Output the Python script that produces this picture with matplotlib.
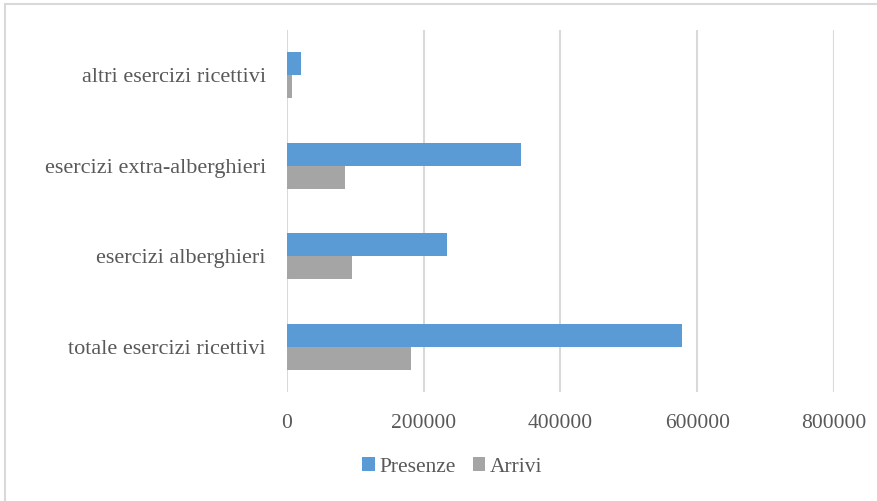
import numpy as np
import matplotlib.pyplot as plt
from matplotlib.patches import Rectangle

categories = ["totale esercizi ricettivi", "esercizi alberghieri",
              "esercizi extra-alberghieri", "altri esercizi ricettivi"]
presenze = [578000, 234500, 342000, 21500]
arrivi = [181000, 95500, 85300, 7800]
xticks = [0, 200000, 400000, 600000, 800000]

blue = "#5B9BD5"
grey = "#A5A5A5"
text_col = "#595959"
plt.rcParams["font.family"] = ["Liberation Serif", "DejaVu Serif"]

fig = plt.figure(figsize=(8.78, 5.01), dpi=100)
ax = fig.add_axes([0.3265, 0.2176, 0.6234, 0.7226])

y = np.arange(len(categories))
h = 0.255
ax.barh(y + h / 2, presenze, height=h, color=blue, label="Presenze", zorder=3)
ax.barh(y - h / 2, arrivi, height=h, color=grey, label="Arrivi", zorder=3)

ax.set_xlim(0, 800000)
ax.set_ylim(-0.5, len(categories) - 0.5)
ax.set_xticks(xticks)
ax.set_xticklabels([str(v) for v in xticks])
ax.set_yticks(y)
ax.set_yticklabels(categories)
ax.grid(axis="x", color="#D9D9D9", linewidth=1.5, zorder=0)
ax.tick_params(length=0, labelsize=15.5, labelcolor=text_col)
ax.tick_params(axis="x", pad=16)
ax.tick_params(axis="y", pad=15, labelsize=16)
for s in ax.spines.values():
    s.set_visible(False)

fig.legend(loc="center", bbox_to_anchor=(452 / 878, 1 - 467 / 501), ncol=2,
           frameon=False, fontsize=15.5, labelcolor=text_col,
           handlelength=0.6, handleheight=0.6, handletextpad=0.2,
           columnspacing=0.8)

# chart frame
fig.patches.append(Rectangle((5 / 878, -0.1), 1.2, 1.1 - 4.5 / 501,
                             transform=fig.transFigure, fill=False,
                             edgecolor="#D9D9D9", linewidth=1.5))

fig.savefig("out.png", dpi=100)
